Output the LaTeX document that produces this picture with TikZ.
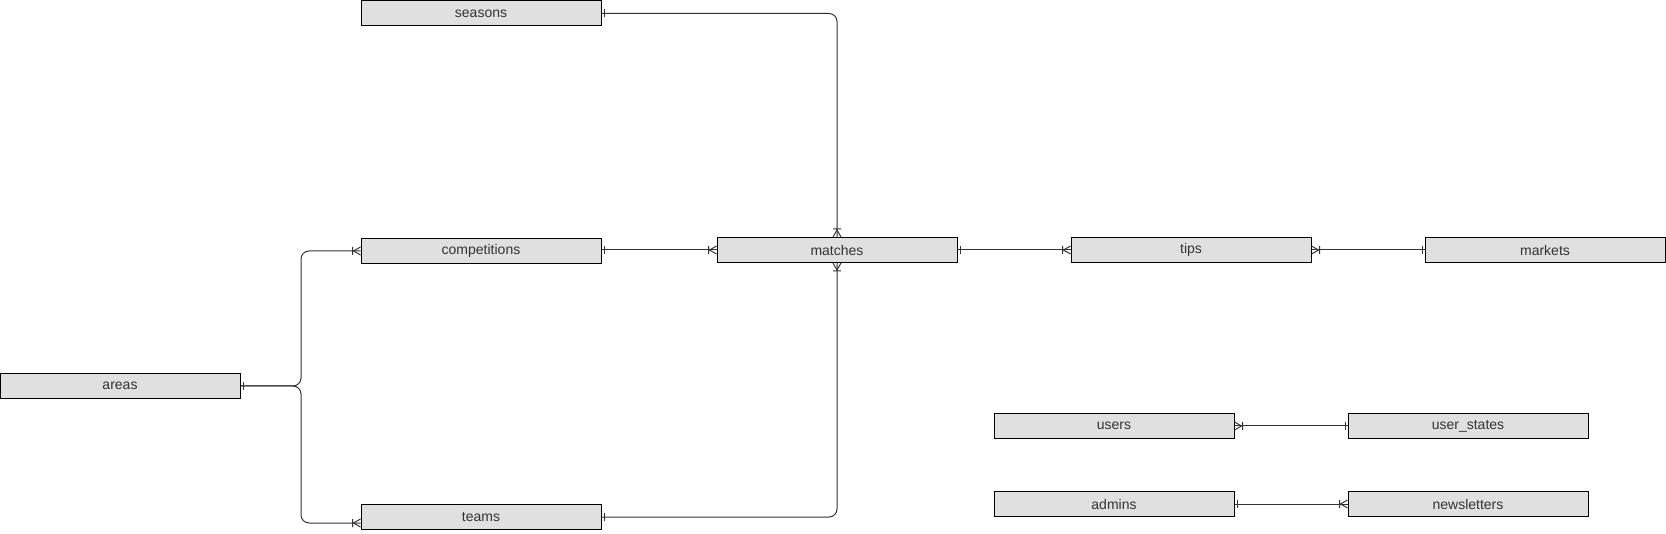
\documentclass[tikz,border=0pt]{standalone}
\usepackage{fontspec}
\setmainfont{Liberation Sans}
\usetikzlibrary{arrows.meta,positioning}

\definecolor{boxfill}{HTML}{E0E0E0}
\definecolor{linegray}{HTML}{333333}

% ER end marks: one bar, and one-or-many (bar + crow's foot)
\pgfdeclarearrow{
  name = erone,
  setup code = {
    \pgfarrowssettipend{0pt}
    \pgfarrowssetlineend{0pt}
    \pgfarrowssetbackend{-4pt}
    \pgfarrowsupperhullpoint{-4pt}{4pt}
    \pgfarrowsupperhullpoint{0pt}{4pt}
  },
  drawing code = {
    \pgfsetdash{}{0pt}
    \pgfpathmoveto{\pgfqpoint{-2.5pt}{4pt}}
    \pgfpathlineto{\pgfqpoint{-2.5pt}{-4pt}}
    \pgfusepathqstroke
  }
}
\pgfdeclarearrow{
  name = ermany,
  setup code = {
    \pgfarrowssettipend{0pt}
    \pgfarrowssetlineend{0pt}
    \pgfarrowssetbackend{-9pt}
    \pgfarrowsupperhullpoint{-9pt}{4pt}
    \pgfarrowsupperhullpoint{0pt}{4pt}
  },
  drawing code = {
    \pgfsetdash{}{0pt}
    \pgfpathmoveto{\pgfqpoint{0pt}{4pt}}
    \pgfpathlineto{\pgfqpoint{-7pt}{0pt}}
    \pgfpathlineto{\pgfqpoint{0pt}{-4pt}}
    \pgfpathmoveto{\pgfqpoint{-8pt}{4pt}}
    \pgfpathlineto{\pgfqpoint{-8pt}{-4pt}}
    \pgfusepathqstroke
  }
}

\begin{document}
\begin{tikzpicture}
	[x=1pt,y=-1pt,
	table node/.style={shape=rectangle,draw=black,fill=boxfill,line width=1pt,
		minimum width=240pt,minimum height=25pt,inner sep=0pt,
		font=\fontsize{14}{16}\selectfont,text=black!80},
	rel/.style={draw=linegray,line width=1pt,rounded corners=8pt}]
	\useasboundingbox (0,0) rectangle (1666,534);
	
	\node [table node] (seasons) at (481,13.5) {seasons};
	\node [table node] (competitions) at (481,251) {competitions};
	\node [table node] (matches) at (837,250) {matches};
	\node [table node] (tips) at (1191,250) {tips};
	\node [table node] (markets) at (1545,250) {markets};
	\node [table node] (areas) at (120,386) {areas};
	\node [table node] (teams) at (481,517) {teams};
	\node [table node] (users) at (1114,426) {users};
	\node [table node] (user_states) at (1468,426) {user\_states};
	\node [table node] (admins) at (1114,504) {admins};
	\node [table node] (newsletters) at (1468,504) {newsletters};
	
	\coordinate (split) at (301,386);
	
	\draw [rel,erone-ermany] (seasons.east) -| (matches.north);
	\draw [rel,erone-ermany] (teams.east) -| (matches.south);
	\draw [rel,erone-ermany] (competitions.east |- matches.west) -- (matches.west);
	\draw [rel,erone-ermany] (matches.east) -- (tips.west);
	\draw [rel,ermany-erone] (tips.east) -- (markets.west);
	\draw [rel,erone-ermany] (areas.east) -- (split) |- (competitions.west);
	\draw [rel,erone-ermany] (areas.east) -- (split) |- ([yshift=-6pt]teams.west);
	\draw [rel,ermany-erone] (users.east) -- (user_states.west);
	\draw [rel,erone-ermany] (admins.east) -- (newsletters.west);
	
\end{tikzpicture}
\end{document}
